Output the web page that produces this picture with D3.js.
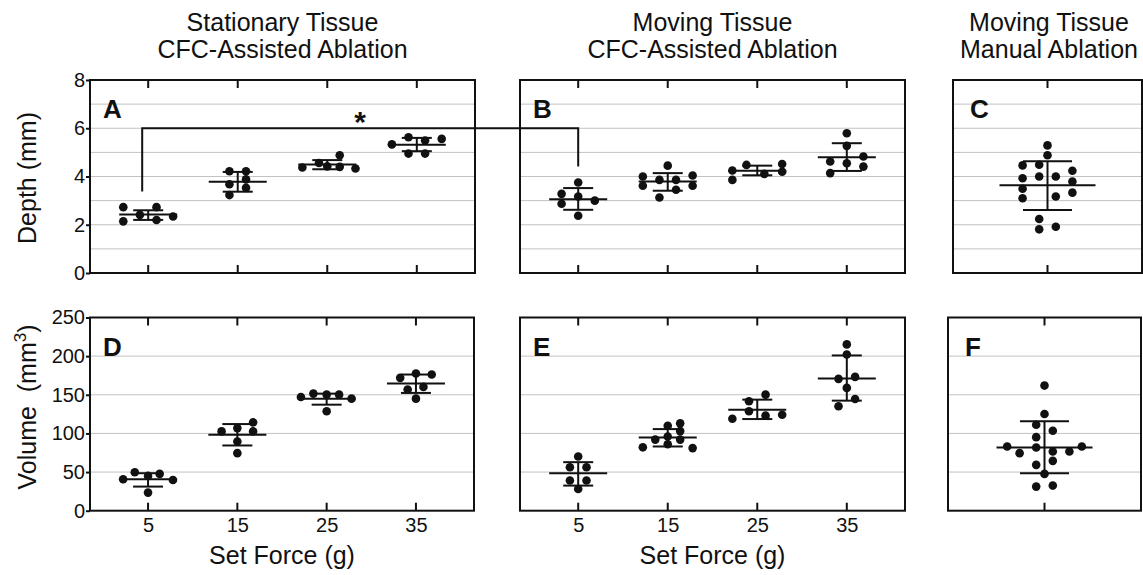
<!DOCTYPE html>
<html><head><meta charset="utf-8">
<script src="https://cdn.jsdelivr.net/npm/d3@7"></script>
<style>
body{margin:0;background:#fff}
text{font-family:"Liberation Sans", Arial, Helvetica, sans-serif;fill:#111}
</style>
</head><body><svg id="chart" width="1143" height="575"></svg>
<script>
// ---------- DATA ----------
const forceLevels = [5, 15, 25, 35];
const forceTickLabels = ["5", "15", "25", "35"];
const depthTicks = [0, 2, 4, 6, 8];
const depthGrid = [1, 2, 3, 4, 5, 6, 7];
const volumeTicks = [0, 50, 100, 150, 200, 250];
const volumeGrid = [50, 100, 150, 200];

// Panel A: depth, stationary tissue, CFC-assisted
const depthStationaryValues = [
  [2.73, 2.14, 2.41, 2.73, 2.20, 2.34],
  [4.22, 4.22, 3.68, 3.88, 3.53, 3.23],
  [4.37, 4.56, 4.42, 4.88, 4.40, 4.33],
  [5.33, 5.63, 4.95, 5.49, 4.95, 5.56]
];
const depthStationaryJitter = [
  [-3, -3, -1, 1, 1, 3],
  [-1, 1, -1, 1, 1, -1],
  [-3, -1, 0, 1.5, 1.5, 3.4],
  [-3, -1, -1, 1, 1, 3]
];
const depthStationaryMean = [2.42, 3.78, 4.50, 5.32];
const depthStationaryUpper = [2.60, 4.19, 4.68, 5.60];
const depthStationaryLower = [2.20, 3.37, 4.30, 5.05];

// Panel B: depth, moving tissue, CFC-assisted
const depthMovingValues = [
  [3.75, 3.28, 2.87, 3.17, 3.00, 2.37],
  [4.00, 3.62, 3.86, 3.13, 4.45, 3.86, 3.45, 4.04, 3.62],
  [4.25, 3.86, 4.48, 4.11, 4.52, 4.20],
  [5.79, 5.27, 4.62, 4.14, 4.55, 4.83, 4.41]
];
const depthMovingJitter = [
  [0, -2, -2, 0, 2, 0],
  [-3, -3, -1, -1, 0, 1, 1, 3, 3],
  [-3, -3, -1.3, 0.85, 3, 3],
  [0, 0, -2, -2, 0, 2, 2]
];
const depthMovingMean = [3.06, 3.79, 4.24, 4.80];
const depthMovingUpper = [3.52, 4.14, 4.45, 5.38];
const depthMovingLower = [2.62, 3.41, 4.05, 4.23];

// Panel C: depth, moving tissue, manual
const depthManualValues = [[5.29, 4.88, 4.46, 4.49, 3.93, 4.00, 4.00, 4.24, 3.79, 3.49, 3.10, 3.17, 3.33, 2.24, 1.81, 1.92]];
const depthManualJitter = [[0, 0, -3, -1, -3, -1, 1, 3, 3, -3, -3, 1, 3, -1, -1, 1]];
const depthManualMean = [3.64];
const depthManualUpper = [4.63];
const depthManualLower = [2.61];

// Panel D: volume, stationary tissue, CFC-assisted
const volumeStationaryValues = [
  [40.7, 49.8, 45.0, 47.6, 39.8, 23.4],
  [102.6, 106.9, 114.3, 102.6, 89.6, 74.5],
  [147.2, 151.5, 150.2, 150.2, 145.0, 128.6],
  [171.9, 177.5, 176.2, 156.7, 160.2, 145.0]
];
const volumeStationaryJitter = [
  [-3, -1.6, 0, 1.4, 3, 0],
  [-1.9, 0, 1.9, 1.9, 0, 0],
  [-3.1, -1.6, 0, 1.5, 3, 0],
  [-1.9, 0, 1.9, -1, 0.9, 0]
];
const volumeStationaryMean = [40.7, 98.3, 145.0, 164.5];
const volumeStationaryUpper = [48.5, 112.1, 151.5, 176.2];
const volumeStationaryLower = [31.2, 84.4, 137.2, 152.4];

// Panel E: volume, moving tissue, CFC-assisted
const volumeMovingValues = [
  [70.1, 56.3, 56.3, 39.0, 39.0, 28.1],
  [82, 92, 110, 96, 86, 113, 103, 92, 81],
  [119.0, 141.6, 128.6, 150.2, 123.0, 124.2],
  [215.2, 202.2, 170.6, 173.2, 158.9, 144.6, 135.1]
];
const volumeMovingJitter = [
  [0, -1, 1, -1, 1, 0],
  [-3, -1.5, 0, 0, 0, 1.5, 1.5, 1.5, 3],
  [-3, -1, -1, 1, 1, 3],
  [0, 0, -1, 1, 0, 1, -1]
];
const volumeMovingMean = [48.5, 94.8, 130.7, 171.0];
const volumeMovingUpper = [62.8, 105.6, 143.7, 200.9];
const volumeMovingLower = [32.5, 83.1, 118.6, 142.4];

// Panel F: volume, moving tissue, manual
const volumeManualValues = [[161.9, 125.1, 111.3, 103.5, 95.2, 83.1, 81.8, 83.1, 74.5, 76.6, 76.6, 64.5, 59.3, 47.6, 31.2, 32.5]];
const volumeManualJitter = [[0, 0, -1, 1, -1, -4.5, -1, 4.5, -3, 1, 3, 1, -1, 0, -1, 1]];
const volumeManualMean = [81.8];
const volumeManualUpper = [115.6];
const volumeManualLower = [48.5];

// significance bracket (depth units): A 5 g vs B 5 g
const sigLevel = 6.0, sigFootA = 3.38, sigFootB = 4.41;

// ---------- LAYOUT ----------
const svg = d3.select("#chart");
const topRow = {y0: 80, y1: 273};
const botRow = {y0: 317.5, y1: 510.7};
const slotPx = 8.3, dotR = 4.3;

const panels = [
  {letter:"A", x0:90, x1:475, row:topRow, dom:[0,8], grid:depthGrid, ticks:depthTicks, yLabels:true, xLabels:false,
   vals:depthStationaryValues, jit:depthStationaryJitter, mean:depthStationaryMean, up:depthStationaryUpper, lo:depthStationaryLower},
  {letter:"B", x0:520, x1:905, row:topRow, dom:[0,8], grid:depthGrid, ticks:depthTicks, yLabels:false, xLabels:false,
   vals:depthMovingValues, jit:depthMovingJitter, mean:depthMovingMean, up:depthMovingUpper, lo:depthMovingLower},
  {letter:"C", x0:953, x1:1142, row:topRow, dom:[0,8], grid:depthGrid, ticks:depthTicks, yLabels:false, xLabels:false, single:true,
   vals:depthManualValues, jit:depthManualJitter, mean:depthManualMean, up:depthManualUpper, lo:depthManualLower},
  {letter:"D", x0:90, x1:474, row:botRow, dom:[0,250], grid:volumeGrid, ticks:volumeTicks, yLabels:true, xLabels:true,
   vals:volumeStationaryValues, jit:volumeStationaryJitter, mean:volumeStationaryMean, up:volumeStationaryUpper, lo:volumeStationaryLower},
  {letter:"E", x0:520, x1:905, row:botRow, dom:[0,250], grid:volumeGrid, ticks:volumeTicks, yLabels:false, xLabels:true,
   vals:volumeMovingValues, jit:volumeMovingJitter, mean:volumeMovingMean, up:volumeMovingUpper, lo:volumeMovingLower},
  {letter:"F", x0:948, x1:1141, row:botRow, dom:[0,250], grid:volumeGrid, ticks:volumeTicks, yLabels:false, xLabels:false, single:true,
   vals:volumeManualValues, jit:volumeManualJitter, mean:volumeManualMean, up:volumeManualUpper, lo:volumeManualLower}
];

const scales = {};
panels.forEach(p => {
  const g = svg.append("g");
  const cats = p.single ? [1] : forceLevels;
  const x = d3.scaleLinear().domain(p.single ? [0, 2] : [-1.5, 41.5]).range([p.x0, p.x1]);
  const y = d3.scaleLinear().domain(p.dom).range([p.row.y1, p.row.y0]);
  scales[p.letter] = {x, y};
  const meanHalf = p.single ? 48 : 29, capHalf = p.single ? 24.5 : 15;

  g.append("g").selectAll("line").data(p.grid).join("line")
    .attr("x1", p.x0).attr("x2", p.x1).attr("y1", d => y(d)).attr("y2", d => y(d))
    .attr("stroke", "#c2c2c2").attr("stroke-width", 1);

  // inward category ticks top & bottom
  const tk = g.append("g").attr("stroke", "#111").attr("stroke-width", 2);
  cats.forEach(c => {
    tk.append("line").attr("x1", x(c)).attr("x2", x(c)).attr("y1", p.row.y0).attr("y2", p.row.y0 + 8);
    tk.append("line").attr("x1", x(c)).attr("x2", x(c)).attr("y1", p.row.y1).attr("y2", p.row.y1 - 8);
  });

  p.vals.forEach((vals, i) => {
    const cx = x(cats[i]);
    g.append("g").selectAll("circle").data(vals).join("circle")
      .attr("cx", (d, j) => cx + p.jit[i][j] * slotPx)
      .attr("cy", d => y(d)).attr("r", dotR).attr("fill", "#111");
    const eb = g.append("g").attr("stroke", "#111").attr("stroke-width", 2);
    eb.append("line").attr("x1", cx - meanHalf).attr("x2", cx + meanHalf).attr("y1", y(p.mean[i])).attr("y2", y(p.mean[i]));
    eb.append("line").attr("x1", cx).attr("x2", cx).attr("y1", y(p.up[i])).attr("y2", y(p.lo[i]));
    eb.append("line").attr("x1", cx - capHalf).attr("x2", cx + capHalf).attr("y1", y(p.up[i])).attr("y2", y(p.up[i]));
    eb.append("line").attr("x1", cx - capHalf).attr("x2", cx + capHalf).attr("y1", y(p.lo[i])).attr("y2", y(p.lo[i]));
  });

  g.append("rect").attr("x", p.x0).attr("y", p.row.y0).attr("width", p.x1 - p.x0).attr("height", p.row.y1 - p.row.y0)
    .attr("fill", "none").attr("stroke", "#111").attr("stroke-width", 2);

  if (p.yLabels) {
    const ax = g.append("g").attr("transform", `translate(${p.x0},0)`)
      .call(d3.axisLeft(y).tickValues(p.ticks).tickSize(4).tickPadding(1));
    ax.select(".domain").remove();
    ax.selectAll("line").attr("stroke", "#111").attr("stroke-width", 2);
    ax.selectAll("text").attr("font-size", 20).attr("font-family", "Liberation Sans, Arial, sans-serif").attr("fill", "#111");
  }
  if (p.xLabels) {
    const ax = g.append("g").attr("transform", `translate(0,${p.row.y1})`)
      .call(d3.axisBottom(x).tickValues(forceLevels).tickFormat((d, i) => forceTickLabels[i]).tickSize(0).tickPadding(7));
    ax.select(".domain").remove();
    ax.selectAll("text").attr("font-size", 20).attr("font-family", "Liberation Sans, Arial, sans-serif").attr("fill", "#111");
  }

  g.append("text").attr("x", p.x0 + (p.single ? 17 : 13)).attr("y", p.row.y0 + 38)
    .attr("font-size", 26).attr("font-weight", "bold").text(p.letter);
});

// significance bracket
{
  const A = scales.A, B = scales.B;
  const xa = A.x(5) - 6, xb = B.x(5);
  svg.append("path")
    .attr("d", `M${xa},${A.y(sigFootA)}V${A.y(sigLevel)}H${xb}V${A.y(sigFootB)}`)
    .attr("fill", "none").attr("stroke", "#111").attr("stroke-width", 2);
  svg.append("text").attr("x", (xa + xb) / 2).attr("y", 132).attr("text-anchor", "middle")
    .attr("font-size", 30).attr("font-weight", "bold").text("*");
}

// titles
const titles = [
  {cx: 282.5, lines: ["Stationary Tissue", "CFC-Assisted Ablation"]},
  {cx: 712.5, lines: ["Moving Tissue", "CFC-Assisted Ablation"]},
  {cx: 1049, lines: ["Moving Tissue", "Manual Ablation"]}
];
titles.forEach(t => {
  t.lines.forEach((l, i) => svg.append("text").attr("x", t.cx).attr("y", 31 + i * 27)
    .attr("text-anchor", "middle").attr("font-size", 25).text(l));
});

// x axis titles
[282, 712.5].forEach(cx => svg.append("text").attr("x", cx).attr("y", 564)
  .attr("text-anchor", "middle").attr("font-size", 25).text("Set Force (g)"));

// y axis titles
svg.append("text").attr("transform", "translate(36,178) rotate(-90)").attr("text-anchor", "middle")
  .attr("font-size", 25).text("Depth (mm)");
const vt = svg.append("text").attr("transform", "translate(36,407) rotate(-90)").attr("text-anchor", "middle")
  .attr("font-size", 25).style("white-space", "pre");
vt.append("tspan").text("Volume  (mm");
vt.append("tspan").attr("dy", -10).attr("font-size", 17).text("3");
vt.append("tspan").attr("dy", 10).text(")");
</script></body></html>
